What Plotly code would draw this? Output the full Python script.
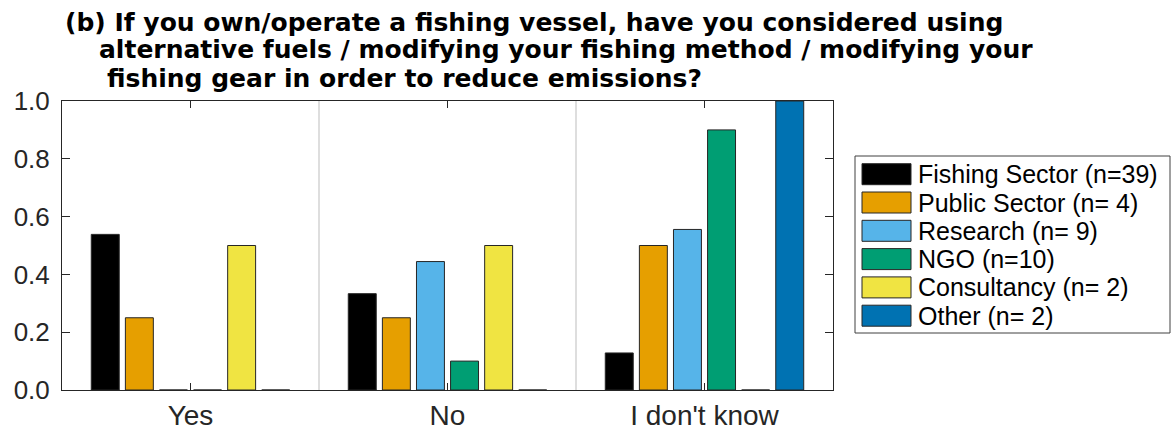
import plotly.graph_objects as go

# Survey answers (share of respondents per stakeholder group)
answers = ["Yes", "No", "I don't know"]
groups = [
    "Fishing Sector (n=39)",
    "Public Sector (n= 4)",
    "Research (n= 9)",
    "NGO (n=10)",
    "Consultancy (n= 2)",
    "Other (n= 2)",
]
fishing_sector = [21 / 39, 13 / 39, 5 / 39]
public_sector = [0.25, 0.25, 0.50]
research = [0.0, 4 / 9, 5 / 9]
ngo = [0.0, 0.10, 0.90]
consultancy = [0.50, 0.50, 0.0]
other = [0.0, 0.0, 1.0]
series = [fishing_sector, public_sector, research, ngo, consultancy, other]
colors = ["#000000", "#E69F00", "#56B4E9", "#009E73", "#F0E442", "#0072B2"]
y_ticks = [0.0, 0.2, 0.4, 0.6, 0.8, 1.0]

title_lines = [
    "(b) If you own/operate a fishing vessel, have you considered using",
    "alternative fuels / modifying your fishing method / modifying your",
    "fishing gear in order to reduce emissions?",
]

FONT = "Liberation Sans, Arial, Helvetica, sans-serif"
TITLE_FONT = "DejaVu Sans, Liberation Sans, Arial, sans-serif"
AX = "#262626"

W, H = 1172, 430
L, R, T, B = 62, 339, 101, 40
PW, PH = W - L - R, H - T - B


def px_x(p):
    return (p - L) / PW


def px_y(p):
    return (H - B - p) / PH


fig = go.Figure()
for name, vals, col in zip(groups, series, colors):
    fig.add_trace(go.Bar(
        x=answers, y=vals, name=name,
        marker=dict(color=col, line=dict(color=AX, width=1)),
        showlegend=False,
    ))

# light separators between answer categories
for i in range(len(answers) - 1):
    fig.add_shape(type="line", xref="x", yref="paper",
                  x0=i + 0.5, x1=i + 0.5, y0=0, y1=1,
                  line=dict(color="#BDBDBD", width=1), layer="below")

# title, drawn line by line with MATLAB-style indents
title_x = [63, 97, 105]
title_y = [22, 50, 79]
for txt, tx, ty in zip(title_lines, title_x, title_y):
    fig.add_annotation(text="<b>%s</b>" % txt, xref="paper", yref="paper",
                       x=px_x(tx), y=px_y(ty), xanchor="left", yanchor="middle",
                       showarrow=False, font=dict(family=TITLE_FONT, size=25, color="#000"))

# legend box with wide swatches
box_l, box_r, box_t, box_b = 855, 1170, 156, 333
fig.add_shape(type="rect", xref="paper", yref="paper",
              x0=px_x(box_l), x1=px_x(box_r), y0=px_y(box_b), y1=px_y(box_t),
              line=dict(color="#404040", width=1), fillcolor="white")
row0, pitch, sw_h = 174.2, 28.3, 21
for k, (name, col) in enumerate(zip(groups, colors)):
    cy = row0 + k * pitch
    fig.add_shape(type="rect", xref="paper", yref="paper",
                  x0=px_x(862), x1=px_x(911),
                  y0=px_y(cy + sw_h / 2), y1=px_y(cy - sw_h / 2),
                  line=dict(color=AX, width=1), fillcolor=col)
    fig.add_annotation(text=name, xref="paper", yref="paper",
                       x=px_x(916), y=px_y(cy), xanchor="left", yanchor="middle",
                       showarrow=False, font=dict(family=FONT, size=25, color="#000"))

fig.update_layout(
    width=W, height=H,
    margin=dict(l=L, r=R, t=T, b=B, pad=0, autoexpand=False),
    paper_bgcolor="white", plot_bgcolor="white",
    barmode="group", bargap=0.204, bargroupgap=0.18,
    font=dict(family=FONT, color=AX),
)
fig.update_xaxes(
    range=[-0.5, len(answers) - 0.5], showgrid=False, automargin=False,
    showline=True, linecolor=AX, linewidth=1, mirror="ticks",
    ticks="inside", ticklen=7, tickcolor=AX,
    tickfont=dict(family=FONT, size=28, color=AX),
)
fig.update_yaxes(
    range=[0, 1], tickvals=y_ticks, tickformat=".1f", showgrid=False,
    zeroline=False, showline=True, linecolor=AX, linewidth=1, mirror="ticks",
    ticks="inside", ticklen=8, tickcolor=AX, automargin=False,
    ticklabelstandoff=6,
    tickfont=dict(family=FONT, size=26, color=AX),
)

fig.write_html("out.html")
